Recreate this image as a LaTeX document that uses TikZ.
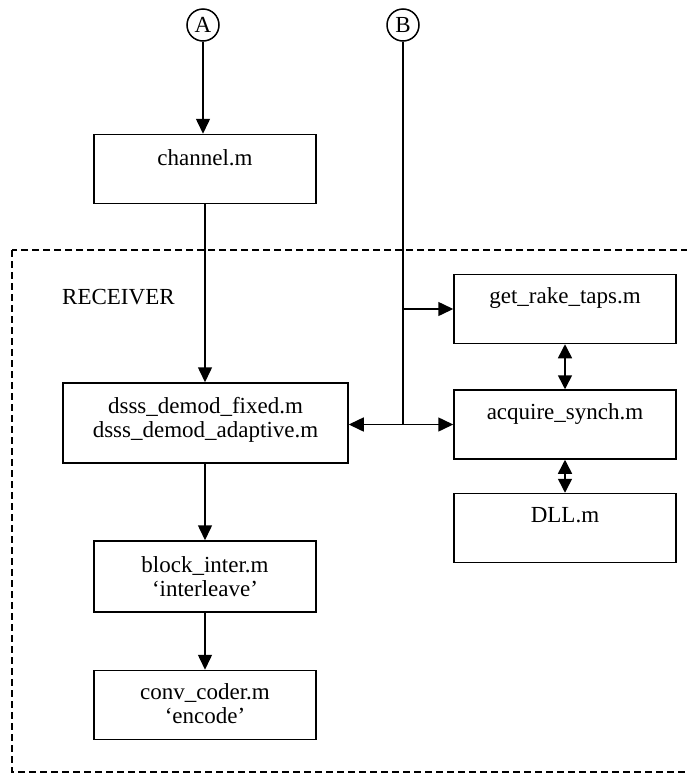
\documentclass[tikz,border=0pt]{standalone}
\usepackage{fontspec}
\setmainfont{Liberation Serif}
\usetikzlibrary{arrows.meta,calc}
\begin{document}
\begin{tikzpicture}[x=1pt,y=-1pt,
  box/.style={draw, line width=1.5pt, minimum width=222pt, minimum height=69pt, inner sep=0pt},
  lbl/.style={anchor=base, align=center, inner sep=0pt, font=\fontsize{23}{24}\selectfont},
  circ/.style={draw, circle, line width=1.5pt, minimum size=32pt, inner sep=0pt, font=\fontsize{23}{24}\selectfont},
  conn/.style={line width=1.5pt},
  arr/.style={conn, -{Triangle[length=15pt,width=14pt]}},
  darr/.style={conn, {Triangle[length=14pt,width=14pt]}-{Triangle[length=14pt,width=14pt]}},
  frame/.style={line width=1.5pt, dash pattern=on 7pt off 4pt}
]
\useasboundingbox (0,0) rectangle (687,774);
\draw[frame] (12,250) rectangle (730,772);

\node[circ] (A) at (203,25) {A};
\node[circ] (B) at (403,25) {B};

\node[box] (ch) at (205,169) {};
\node[box, minimum width=285pt, minimum height=80pt] (dm) at (205.5,423) {};
\node[box, minimum height=71pt] (bi) at (205,576.5) {};
\node[box] (cc) at (205,705) {};
\node[box] (gr) at (565,309) {};
\node[box] (aq) at (565,424.5) {};
\node[box] (dl) at (565,528) {};

\node[lbl] (chT) at ($(ch.north)+(0,32)$) {channel.m};
\node[lbl] (dmT) at ($(dm.north)+(0,55)$) {dsss\_demod\_fixed.m\\dsss\_demod\_adaptive.m};
\node[lbl] (biT) at ($(bi.north)+(0,56)$) {block\_inter.m\\‘interleave’};
\node[lbl] (ccT) at ($(cc.north)+(0,54)$) {conv\_coder.m\\‘encode’};
\node[lbl] (grT) at ($(gr.north)+(0,30)$) {get\_rake\_taps.m};
\node[lbl] (aqT) at ($(aq.north)+(0,30)$) {acquire\_synch.m};
\node[lbl] (dlT) at ($(dl.north)+(0,30)$) {DLL.m};

\node[anchor=base west, inner sep=0pt, font=\fontsize{23}{24}\selectfont] (rx) at (62,304) {RECEIVER};

\coordinate (J) at (B |- aq.west);
\coordinate (K) at (B |- gr.west);

\draw[arr] (A) -- (ch.north -| A);
\draw[arr] (ch.south) -- (ch.south |- dm.north);
\draw[conn] (B) -- (J);
\draw[arr] (K) -- (gr.west);
\draw[arr] (J) -- (dm.east |- J);
\draw[arr] (J) -- (aq.west);
\draw[darr] (gr.south) -- (aq.north);
\draw[darr] (aq.south) -- (dl.north);
\draw[arr] (bi.north |- dm.south) -- (bi.north);
\draw[arr] (bi.south) -- (cc.north);
\end{tikzpicture}
\end{document}
